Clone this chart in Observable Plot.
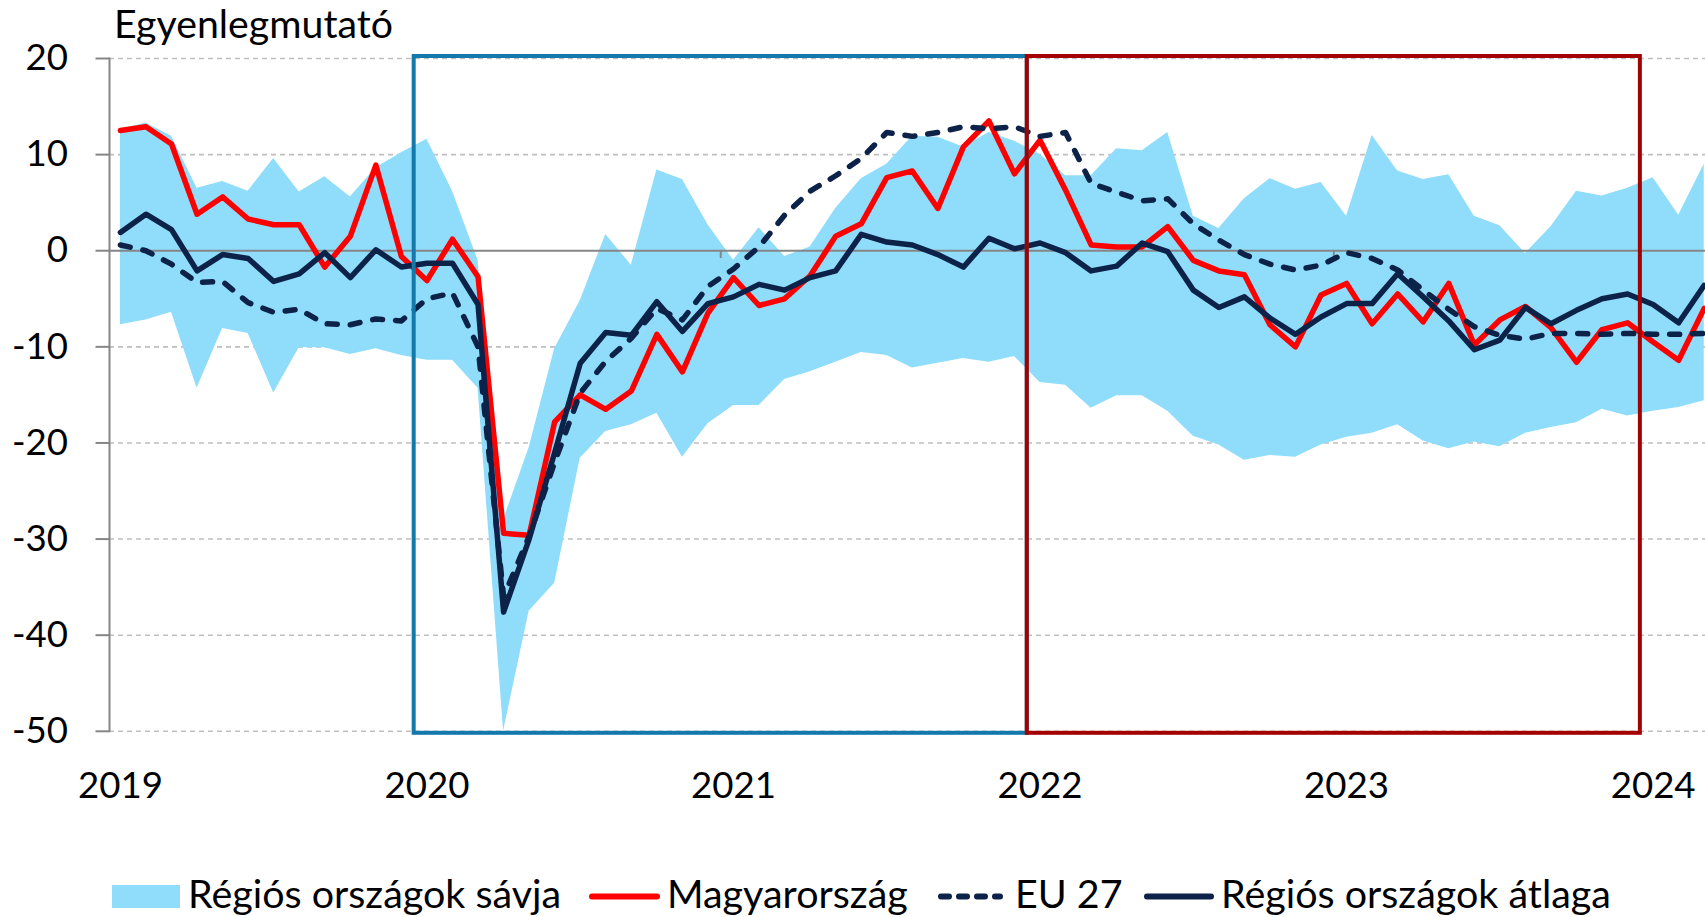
<!DOCTYPE html>
<html><head><meta charset="utf-8">
<script src="https://cdn.jsdelivr.net/npm/d3@7"></script>
<script src="https://cdn.jsdelivr.net/npm/@observablehq/plot@0.6"></script>
<style>
  body { margin: 0; background: #fff; font-family: Lato, "Open Sans", sans-serif; }
  #wrap { width: 1705px; height: 917px; overflow: hidden; }
  #title { position: relative; height: 46px; }
  #title span { position: absolute; left: 114px; white-space: nowrap; color: #000; }
</style>
</head><body>
<div id="wrap">
  <div id="title"><span id="titleText"></span></div>
  <div id="chart"></div>
  <div id="legend"></div>
</div>
<script>
// ---------- data ----------
const titleText = "Egyenlegmutató";
const firstMonth = "2019-01";
const years = ["2019", "2020", "2021", "2022", "2023", "2024"];
const yTicks = [20, 10, 0, -10, -20, -30, -40, -50];

// Magyarország (monthly, Jan 2019 – Mar 2024)
const hu = [12.5, 12.9, 11.1, 3.8, 5.6, 3.3, 2.7, 2.7, -1.7, 1.5, 8.9, -0.6, -3.1,
  1.2, -2.7, -29.4, -29.6, -17.8, -15.0, -16.5, -14.6, -8.7, -12.6, -6.5, -2.8,
  -5.7, -5.0, -2.6, 1.5, 2.8, 7.6, 8.3, 4.4, 10.8, 13.5, 8.0, 11.5,
  6.3, 0.6, 0.4, 0.4, 2.5, -1.0, -2.1, -2.5, -7.7, -10.0, -4.6, -3.4,
  -7.6, -4.5, -7.4, -3.4, -9.8, -7.2, -5.8, -8.0, -11.6, -8.2, -7.5, -9.5, -11.4, -6.0];
// EU 27
const eu = [0.6, 0.0, -1.4, -3.3, -3.2, -5.4, -6.4, -6.1, -7.6, -7.7, -7.1, -7.3, -5.0,
  -4.4, -10.0, -36.0, -29.7, -22.0, -14.8, -11.5, -9.1, -6.0, -7.2, -3.7, -1.9,
  0.4, 3.7, 6.2, 7.8, 9.6, 12.3, 11.9, 12.3, 12.9, 12.7, 12.9, 11.9,
  12.3, 7.0, 6.1, 5.2, 5.4, 2.8, 1.1, -0.4, -1.4, -2.0, -1.5, -0.2,
  -0.8, -2.0, -4.1, -6.1, -7.9, -8.8, -9.2, -8.6, -8.6, -8.7, -8.6, -8.7, -8.7, -8.6];
// Régiós országok átlaga
const reg = [1.9, 3.8, 2.2, -2.1, -0.4, -0.8, -3.2, -2.4, -0.2, -2.8, 0.1, -1.7, -1.3,
  -1.3, -5.6, -37.6, -30.0, -21.0, -11.7, -8.5, -8.8, -5.3, -8.4, -5.5, -4.8,
  -3.5, -4.1, -2.8, -2.1, 1.7, 0.9, 0.6, -0.4, -1.7, 1.3, 0.2, 0.8,
  -0.2, -2.1, -1.6, 0.8, -0.1, -4.1, -5.9, -4.8, -7.0, -8.7, -6.9, -5.5,
  -5.5, -2.4, -4.8, -7.3, -10.3, -9.3, -5.9, -7.6, -6.2, -5.0, -4.5, -5.6, -7.5, -3.6];
// Régiós országok sávja (min / max)
const bandLow = [-7.7, -7.2, -6.4, -14.3, -8.1, -8.6, -14.8, -10.1, -10.1, -10.8, -10.2, -10.9, -11.4,
  -11.4, -14.3, -50.0, -37.5, -34.6, -21.6, -18.8, -18.1, -16.9, -21.5, -18.0, -16.1,
  -16.1, -13.4, -12.6, -11.6, -10.6, -10.9, -12.2, -11.7, -11.2, -11.6, -11.0, -13.7,
  -14.0, -16.4, -15.1, -15.1, -16.7, -19.3, -20.2, -21.8, -21.3, -21.5, -20.2, -19.4,
  -19.0, -18.1, -19.8, -20.6, -19.9, -20.4, -19.0, -18.4, -17.9, -16.5, -17.2, -16.7, -16.3, -15.6];
const bandHigh = [12.6, 13.3, 11.9, 6.5, 7.2, 6.2, 9.6, 6.1, 7.7, 5.6, 8.6, 10.2, 11.6,
  6.2, -1.0, -28.0, -20.5, -10.2, -5.2, 1.7, -1.5, 8.4, 7.4, 2.7, -1.0,
  2.4, -0.6, 0.4, 4.4, 7.5, 9.0, 11.9, 11.8, 10.8, 12.3, 11.4, 10.0,
  7.8, 7.8, 10.6, 10.4, 12.3, 3.6, 2.3, 5.4, 7.5, 6.4, 7.1, 3.6,
  12.0, 8.3, 7.4, 7.9, 3.6, 2.6, -0.3, 2.5, 6.2, 5.7, 6.5, 7.6, 3.7, 9.0];
// highlighted periods
const periods = [
  {start: "2020-01", end: "2021-12", color: "#1379AD"},
  {start: "2022-01", end: "2023-12", color: "#A30000"}
];
const legendLabels = ["Régiós országok sávja", "Magyarország", "EU 27", "Régiós országok átlaga"];

// ---------- styling ----------
const FONT = "Lato";
const C_BAND = "#8FDDFB", C_RED = "#FF0000", C_NAVY = "#0D2249", C_AXIS = "#868686", C_GRID = "#BFBFBF";
const LW = 5.5;

const ctx = document.createElement("canvas").getContext("2d");
function fitSize(text, target) {
  ctx.font = `100px ${FONT}`;
  const w = ctx.measureText(text).width;
  const s = w > 0 ? 100 * target / w : 36;
  return Math.max(28, Math.min(46, s));
}
const S_TITLE = fitSize(titleText, 279);
const S_TICK = fitSize("2019", 85);
const S_LEG = fitSize(legendLabels[3], 390);

const monthIndex = s => {
  const [y, m] = s.split("-").map(Number);
  const [y0, m0] = firstMonth.split("-").map(Number);
  return (y - y0) * 12 + (m - m0);
};

const data = hu.map((v, i) => ({i, hu: v, eu: eu[i], reg: reg[i], lo: bandLow[i], hi: bandHigh[i]}));
const yearIdx = years.map(y => monthIndex(y + "-01"));
const yearBounds = yearIdx.slice(1).map(i => i - 0.5);

// ---------- title ----------
const t = document.getElementById("titleText");
t.textContent = titleText;
t.style.fontSize = S_TITLE + "px";
t.style.lineHeight = (1.2 * S_TITLE) + "px";
t.style.top = (38 - 0.987 * S_TITLE) + "px";

// ---------- chart ----------
const H = 812, MT = 12, MB = 127.2;
const padX = 751 - (H - MB) - 0.71 * S_TICK;

const chart = Plot.plot({
  width: 1705, height: H,
  marginLeft: 109, marginRight: 0, marginTop: MT, marginBottom: MB,
  style: {fontFamily: FONT, fontSize: S_TICK + "px", color: "#000", background: "transparent", overflow: "visible"},
  x: {type: "linear", domain: [-0.427, data.length - 1 + 0.05], axis: null},
  y: {domain: [-50, 20], axis: null},
  marks: [
    Plot.ruleY(yTicks.filter(d => d !== 0), {stroke: C_GRID, strokeWidth: 1.6, strokeDasharray: "5,4"}),
    Plot.areaY(data, {x: "i", y1: "lo", y2: "hi", fill: C_BAND}),
    Plot.ruleY([0], {stroke: C_AXIS, strokeWidth: 2}),
    Plot.ruleX(yearBounds, {x: d => d, y1: 0, y2: -0.8, stroke: C_AXIS, strokeWidth: 2}),
    Plot.frame({anchor: "left", stroke: C_AXIS, strokeWidth: 2}),
    Plot.axisY({ticks: yTicks, tickFormat: d => String(d), tickSize: 13.5, tickPadding: 28,
      stroke: C_AXIS, strokeWidth: 2, fill: "#000", label: null, fontSize: S_TICK}),
    Plot.axisX({ticks: yearIdx, tickFormat: i => years[yearIdx.indexOf(i)], tickSize: 0, tickPadding: padX,
      anchor: "bottom", label: null, fill: "#000", fontSize: S_TICK}),
    Plot.line(data, {x: "i", y: "hu", stroke: C_RED, strokeWidth: LW, strokeLinejoin: "round"}),
    Plot.line(data, {x: "i", y: "eu", stroke: C_NAVY, strokeWidth: LW, strokeDasharray: "10,13",
      strokeLinecap: "round", strokeLinejoin: "round"}),
    Plot.line(data, {x: "i", y: "reg", stroke: C_NAVY, strokeWidth: LW, strokeLinejoin: "round"}),
    Plot.rect([periods[0]], {x1: d => monthIndex(d.start) - 0.5, x2: d => monthIndex(d.end) + 0.5,
      y1: -50, y2: 20, fill: "none", stroke: periods[0].color, strokeWidth: 4, insetTop: -2, insetBottom: -2}),
    Plot.rect([periods[1]], {x1: d => monthIndex(d.start) - 0.5, x2: d => monthIndex(d.end) + 0.5,
      y1: -50, y2: 20, fill: "none", stroke: periods[1].color, strokeWidth: 4, insetTop: -2, insetBottom: -2})
  ]
});
document.getElementById("chart").appendChild(chart);

// ---------- legend ----------
const LH = 59, base = 50, cy = 38.5;
const leg = d3.select("#legend").append("svg")
  .attr("width", 1705).attr("height", LH)
  .style("display", "block")
  .attr("font-family", FONT).attr("font-size", S_LEG);
const items = [
  {type: "band", x: 112, w: 68, tx: 188},
  {type: "red", x: 589, w: 71, tx: 667},
  {type: "dash", x: 938, w: 65, tx: 1015},
  {type: "navy", x: 1144, w: 70, tx: 1221}
];
items.forEach((it, k) => {
  if (it.type === "band") {
    leg.append("rect").attr("x", it.x).attr("y", 27).attr("width", it.w).attr("height", 23).attr("fill", C_BAND);
  } else {
    const ln = leg.append("line").attr("x1", it.x + 3).attr("x2", it.x + it.w - 3)
      .attr("y1", cy).attr("y2", cy).attr("stroke-width", 6).attr("stroke-linecap", "round")
      .attr("stroke", it.type === "red" ? C_RED : C_NAVY);
    if (it.type === "dash") ln.attr("stroke-dasharray", "8,10");
  }
  leg.append("text").attr("x", it.tx).attr("y", base).attr("fill", "#000").text(legendLabels[k]);
});
</script>
</body></html>
